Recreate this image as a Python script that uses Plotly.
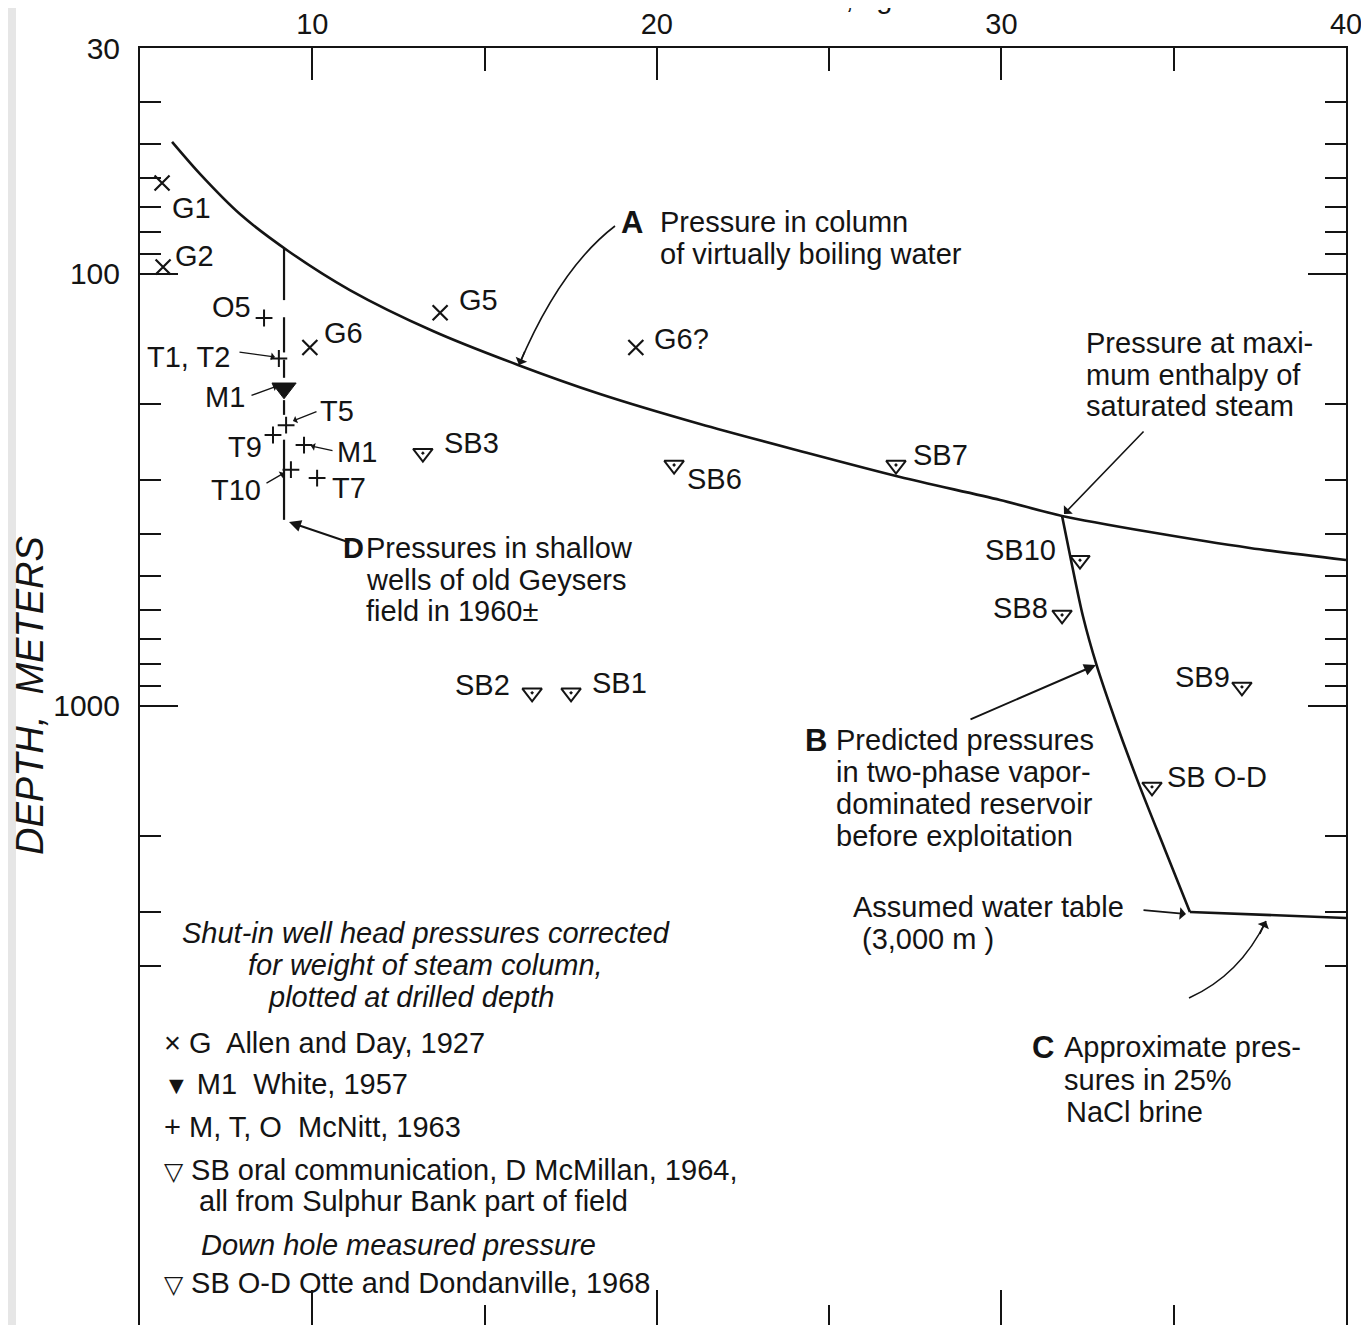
import math
import plotly.graph_objects as go

# ---------------- data (pressure in kg/cm2, depth in meters) ----------------
# Curve A: pressure in column of virtually boiling water
curve_a_pressure = [5.93, 6.74, 7.90, 9.30, 11.09, 13.50, 15.97, 18.35, 21.25,
                    24.15, 27.06, 29.96, 31.76, 34.31, 37.21, 40.0]
curve_a_depth = [49.5, 58.7, 72.7, 88.5, 109, 135.6, 162.5, 189.7, 222.6,
                 257, 295.3, 333.7, 363.4, 395.9, 430.9, 459.6]

# Curve B: predicted pressures in two-phase vapor-dominated reservoir
curve_b_pressure = [31.76, 32.02, 32.37, 32.76, 33.30, 34.02, 34.75, 35.47]
curve_b_depth = [363.4, 460, 622, 804, 1078, 1540, 2156, 3000]

# Curve C: approximate pressures in 25% NaCl brine
curve_c_pressure = [35.47, 37.5, 40.0]
curve_c_depth = [3000, 3048, 3097]

# Curve D: pressures in shallow wells of old Geysers field (drawn in pieces)
curve_d_pressure = 9.18
curve_d_segments = [(87, 115), (126, 152), (158, 174), (196, 212), (242, 371)]

# G: Allen and Day, 1927
g_labels = ["G1", "G2", "G5", "G6", "G6?"]
g_pressure = [5.64, 5.67, 13.71, 9.93, 19.39]
g_depth = [61.6, 96.4, 123, 148, 148]

# M1: White, 1957
white_labels = ["M1"]
white_pressure = [9.18]
white_depth = [184]

# M, T, O: McNitt, 1963
mto_labels = ["O5", "T1, T2", "T5", "T9", "M1", "T10", "T7"]
mto_pressure = [8.60, 9.03, 9.24, 8.86, 9.76, 9.38, 10.14]
mto_depth = [126.5, 157, 224, 236, 249, 284, 297]

# SB: McMillan, 1964 (Sulphur Bank)
sb_labels = ["SB1", "SB2", "SB3", "SB6", "SB7", "SB8", "SB9", "SB10"]
sb_pressure = [17.51, 16.38, 13.21, 20.50, 26.94, 31.76, 36.98, 32.28]
sb_depth = [933, 933, 260, 277, 277, 616, 904, 460]

# SB O-D: Otte and Dondanville, 1968
sbod_labels = ["SB O-D"]
sbod_pressure = [34.37]
sbod_depth = [1540]

# axis ticks
x_major = [10, 20, 30, 40]
x_minor = [5, 15, 25, 35]
y_major = [30, 100, 1000]
y_major_text = ["30", "100", "1000"]
y_minor = [40, 50, 60, 70, 80, 90, 200, 300, 400, 500, 600, 700, 800, 900,
           2000, 3000, 4000]

# ---------------- layout geometry / style ----------------
W, H = 1369, 1325
OFF = 8                      # page body margin of the browser
L, R, T, B = 140, 1346, 48, 1325   # plot area in screen pixels
PX_PER_DECADE = 432.0
Y_TOP = math.log10(30)
Y_BOTTOM = Y_TOP + (B - T) / PX_PER_DECADE
INK = "#141414"
FONT = "Liberation Sans, Arial, sans-serif"
FS = 29


def xp(px):
    return (px - L) / (R - L)


def yp(py):
    return (B - py) / (B - T)


fig = go.Figure()

line_style = dict(color=INK, width=2.6)
fig.add_trace(go.Scatter(x=curve_a_pressure, y=curve_a_depth, mode="lines",
                         line=dict(shape="spline", smoothing=0.8, **line_style),
                         hoverinfo="skip"))
fig.add_trace(go.Scatter(x=curve_b_pressure, y=curve_b_depth, mode="lines",
                         line=dict(shape="spline", smoothing=0.9, **line_style),
                         hoverinfo="skip"))
fig.add_trace(go.Scatter(x=curve_c_pressure, y=curve_c_depth, mode="lines",
                         line=line_style, hoverinfo="skip"))

dx, dy = [], []
for a, b in curve_d_segments:
    dx += [curve_d_pressure, curve_d_pressure, None]
    dy += [a, b, None]
fig.add_trace(go.Scatter(x=dx, y=dy, mode="lines",
                         line=dict(color=INK, width=2.2), hoverinfo="skip"))

fig.add_trace(go.Scatter(x=g_pressure, y=g_depth, mode="markers",
                         marker=dict(symbol="x-thin", size=15, color=INK,
                                     line=dict(color=INK, width=2.2))))
fig.add_trace(go.Scatter(x=mto_pressure, y=mto_depth, mode="markers",
                         marker=dict(symbol="cross-thin", size=12, color=INK,
                                     line=dict(color=INK, width=2))))
fig.add_trace(go.Scatter(x=white_pressure, y=white_depth, mode="markers",
                         marker=dict(symbol="triangle-down", size=21, color=INK,
                                     line=dict(color=INK, width=1))))
fig.add_trace(go.Scatter(x=sb_pressure, y=sb_depth, mode="markers",
                         marker=dict(symbol="triangle-down-open-dot", size=17,
                                     color=INK, line=dict(color=INK, width=2))))
fig.add_trace(go.Scatter(x=sbod_pressure, y=sbod_depth, mode="markers",
                         marker=dict(symbol="triangle-down-open-dot", size=17,
                                     color=INK, line=dict(color=INK, width=2))))
# invisible trace that carries the mirrored bottom tick axis
fig.add_trace(go.Scatter(x=curve_c_pressure, y=curve_c_depth, mode="lines",
                         xaxis="x2", opacity=0, hoverinfo="skip",
                         line=dict(width=0.1)))

# ---------------- point labels (anchor side, x shift, y shift in px) ----------------
label_offsets = {
    "G1": ("left", 8, -25), "G2": ("left", 10, 11), "G5": ("left", 17, 13),
    "G6": ("left", 12, 14), "G6?": ("left", 16, 8),
    "O5": ("right", -11, 11), "T1, T2": ("right", -47, 2), "T5": ("left", 32, 14),
    "T9": ("right", -9, -12), "M1+": ("left", 31, -7), "T10": ("right", -28, -20),
    "T7": ("left", 13, -10), "M1v": ("right", -37, -9),
    "SB1": ("left", 19, 10), "SB2": ("right", -20, 8), "SB3": ("left", 19, 10),
    "SB6": ("left", 11, -14), "SB7": ("left", 15, 10), "SB8": ("right", -12, 7),
    "SB9": ("right", -10, 10), "SB10": ("right", -22, 10), "SB O-D": ("left", 13, 10),
}


def point_label(text, key, x, depth):
    side, sx, sy = label_offsets[key]
    fig.add_annotation(x=x, y=math.log10(depth), xref="x", yref="y", text=text,
                       showarrow=False, xanchor=side, yanchor="middle",
                       xshift=sx, yshift=sy,
                       font=dict(size=FS, color=INK, family=FONT))


for lab, x, d in zip(g_labels, g_pressure, g_depth):
    point_label(lab, lab, x, d)
for lab, x, d in zip(mto_labels, mto_pressure, mto_depth):
    point_label(lab, "M1+" if lab == "M1" else lab, x, d)
for lab, x, d in zip(white_labels, white_pressure, white_depth):
    point_label(lab, "M1v", x, d)
for lab, x, d in zip(sb_labels, sb_pressure, sb_depth):
    point_label(lab, lab, x, d)
for lab, x, d in zip(sbod_labels, sbod_pressure, sbod_depth):
    point_label(lab, lab, x, d)


# ---------------- free text ----------------
def text(x, y, s, size=FS, xanchor="left", yanchor="middle", angle=0):
    fig.add_annotation(x=xp(x), y=yp(y), xref="paper", yref="paper", text=s,
                       showarrow=False, xanchor=xanchor, yanchor=yanchor,
                       textangle=angle, font=dict(size=size, color=INK, family=FONT))


def arrow(tipx, tipy, tailx, taily, head=1, size=1.3, width=1.6):
    fig.add_annotation(x=xp(tipx), y=yp(tipy), xref="paper", yref="paper", text="",
                       showarrow=True, arrowhead=head, arrowsize=size,
                       arrowwidth=width, arrowcolor=INK,
                       ax=tailx - tipx, ay=taily - tipy, standoff=0)


def curved_arrow(p0, c, p2, head=1, size=1.3, width=1.6):
    path = (f"M {xp(p0[0])},{yp(p0[1])} Q {xp(c[0])},{yp(c[1])} "
            f"{xp(p2[0])},{yp(p2[1])}")
    fig.add_shape(type="path", path=path, xref="paper", yref="paper",
                  line=dict(color=INK, width=width))
    tx, ty = p2[0] - c[0], p2[1] - c[1]
    n = math.hypot(tx, ty)
    arrow(p2[0], p2[1], p2[0] - 16 * tx / n, p2[1] - 16 * ty / n, head, size, width)


# A
text(619, 222, "<b>A</b>", size=31)
text(658, 222, "Pressure in column")
text(658, 254, "of virtually boiling water")
curved_arrow((615, 226), (560, 268), (519, 365))

# maximum enthalpy
text(1084, 343, "Pressure at maxi-")
text(1084, 375, "mum enthalpy of")
text(1084, 406, "saturated steam")
arrow(1064, 514, 1145, 430)

# D
text(341, 548, "<b>D</b>", size=29)
text(364, 548, "Pressures in shallow")
text(364, 580, "wells of old Geysers")
text(364, 611, "field in 1960±")
arrow(289, 522, 351, 543, head=2, size=1.2, width=2)

# B
text(803, 740, "<b>B</b>", size=31)
text(834, 740, "Predicted pressures")
text(834, 772, "in two-phase vapor-")
text(834, 804, "dominated reservoir")
text(834, 836, "before exploitation")
arrow(1096, 665, 969, 720, head=2, size=1.2, width=2)

# water table
text(851, 907, "Assumed water table")
text(860, 939, "(3,000 m )")
arrow(1186, 914, 1142, 910)

# C
text(1030, 1047, "<b>C</b>", size=31)
text(1062, 1047, "Approximate pres-")
text(1062, 1080, "sures in 25%")
text(1064, 1112, "NaCl brine")
curved_arrow((1189, 998), (1240, 975), (1266, 921))

# small label arrows
arrow(275, 357, 238, 352, size=1.0, width=1.3)     # T1, T2
arrow(277, 386, 250, 396, size=1.0, width=1.3)     # M1 (White)
arrow(293, 421, 318, 411, size=1.0, width=1.3)     # T5
arrow(311, 446, 334, 451, size=1.0, width=1.3)     # M1 (McNitt)
arrow(284, 473, 265, 484, size=1.0, width=1.3)     # T10

# legend block
X_SYM = "×"
V_FILL = "<span style='font-size:25px'>▼</span>"
V_OPEN = "<span style='font-size:25px'>▽</span>"
text(426, 933, "<i>Shut-in well head pressures corrected</i>", xanchor="center")
text(425, 965, "<i>for weight of steam column,</i>", xanchor="center")
text(411, 997, "<i>plotted at drilled depth</i>", xanchor="center")
text(162, 1043, f"{X_SYM} G  Allen and Day, 1927")
text(162, 1084, f"{V_FILL} M1  White, 1957")
text(162, 1127, "+ M, T, O  McNitt, 1963")
text(162, 1170, f"{V_OPEN} SB oral communication, D McMillan, 1964,")
text(197, 1201, "all from Sulphur Bank part of field")
text(199, 1245, "<i>Down hole measured pressure</i>")
text(162, 1283, f"{V_OPEN} SB O-D Otte and Dondanville, 1968")

# axis titles (the pressure title is cut by the top edge, as in the source scan)
text(30, 696, "<i>DEPTH,  METERS</i>", size=38, xanchor="center", angle=-90)
text(684, 16, "PRESSURE, kg / cm²", yanchor="bottom")

# faint scan edge at the far left
fig.add_shape(type="rect", xref="paper", yref="paper",
              x0=xp(0), x1=xp(16), y0=yp(H + 20), y1=yp(-20),
              fillcolor="#e6e6e6", line=dict(width=0), layer="below")

# ---------------- axes ----------------
axis_common = dict(showgrid=False, zeroline=False, color=INK, linecolor=INK,
                   tickcolor=INK, tickwidth=2, linewidth=2, automargin=False)
fig.update_layout(
    width=W, height=H,
    margin=dict(l=L - OFF, r=W - (R - OFF), t=T - OFF, b=H - (B - OFF), pad=0,
                autoexpand=False),
    paper_bgcolor="white", plot_bgcolor="white", showlegend=False,
    font=dict(family=FONT, color=INK, size=FS),
    xaxis=dict(range=[5, 40], side="top", showline=True, mirror=False,
               ticks="inside", tickmode="array", tickvals=x_major, ticklen=32,
               tickfont=dict(size=29, family=FONT, color=INK),
               minor=dict(tickmode="array", tickvals=x_minor, ticks="inside",
                          ticklen=23, tickwidth=2, tickcolor=INK),
               **axis_common),
    xaxis2=dict(range=[5, 40], overlaying="x", side="bottom", anchor="y",
                showline=False, showticklabels=False, ticks="inside",
                tickmode="array", tickvals=x_major, ticklen=35,
                minor=dict(tickmode="array", tickvals=x_minor[1:], ticks="inside",
                           ticklen=20, tickwidth=2, tickcolor=INK),
                **axis_common),
    yaxis=dict(type="log", range=[Y_BOTTOM, Y_TOP], showline=True, mirror="ticks",
               ticks="inside", tickmode="array", tickvals=y_major,
               ticktext=y_major_text, ticklen=38, ticklabelstandoff=12,
               tickfont=dict(size=30, family=FONT, color=INK),
               minor=dict(tickmode="array", tickvals=y_minor, ticks="inside",
                          ticklen=21, tickwidth=2, tickcolor=INK),
               **axis_common),
)

fig.write_html("out.html")
